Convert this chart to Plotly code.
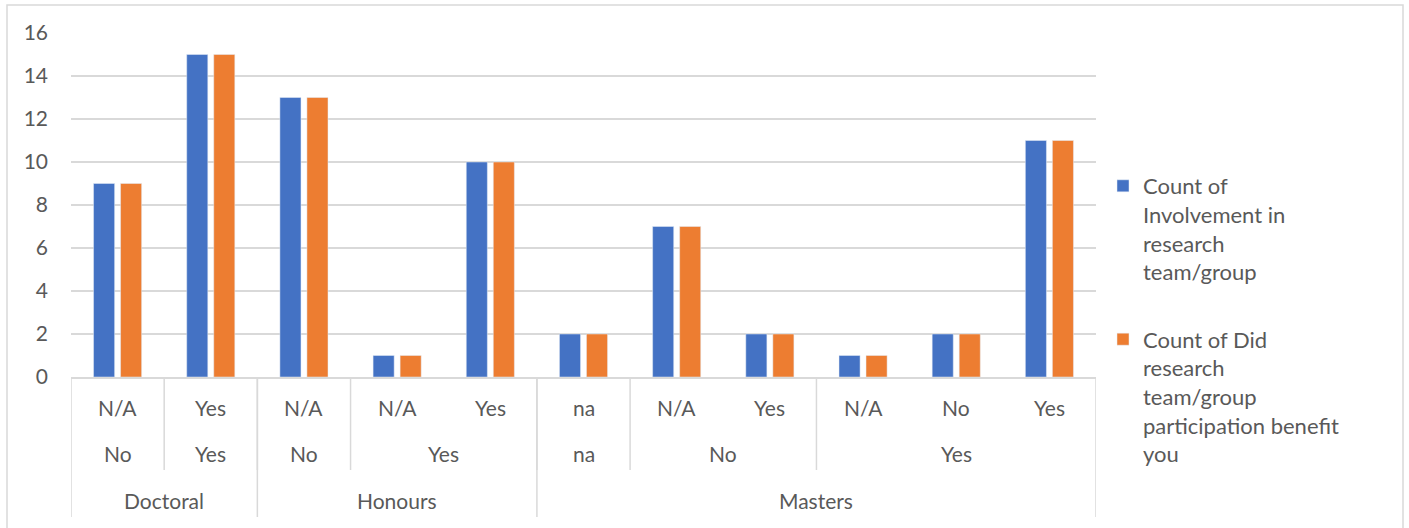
import plotly.graph_objects as go

# Three-level category hierarchy (outer -> inner) and the two counted series
degree = ["Doctoral", "Doctoral", "Honours", "Honours", "Honours",
          "Masters", "Masters", "Masters", "Masters", "Masters", "Masters"]
involvement = ["No", "Yes", "No", "Yes", "Yes",
               "na", "No", "No", "Yes", "Yes", "Yes"]
benefit = ["N/A", "Yes", "N/A", "N/A", "Yes",
           "na", "N/A", "Yes", "N/A", "No", "Yes"]
count_involvement = [9, 15, 13, 1, 10, 2, 7, 2, 1, 2, 11]
count_benefit = [9, 15, 13, 1, 10, 2, 7, 2, 1, 2, 11]
series_names = [
    "Count of<br>Involvement in<br>research<br>team/group",
    "Count of Did<br>research<br>team/group<br>participation benefit<br>you",
]
y_ticks = [0, 2, 4, 6, 8, 10, 12, 14, 16]

BLUE = "#4472C4"
ORANGE = "#ED7D31"
TEXT = "#595959"
LINE = "#D9D9D9"
FONT = "Lato"
FS = 21

W, H = 1409, 528
L, R, T, B = 71, 1096, 33, 377  # plot-area edges in pixels


def px_x(px):
    return (px - L) / (R - L)


def px_y(py):
    return (B - py) / (B - T)


keys = [f"{d} | {i} | {b}" for d, i, b in zip(degree, involvement, benefit)]

fig = go.Figure()
fig.add_trace(go.Bar(x=keys, y=count_involvement, name=series_names[0],
                     marker_color=BLUE, legendgroup="a"))
fig.add_trace(go.Bar(x=keys, y=count_benefit, name=series_names[1],
                     marker_color=ORANGE, legendgroup="b"))

annotations = []
shapes = []

# innermost row of labels: one per category
for idx, lab in enumerate(benefit):
    annotations.append(dict(x=idx, y=px_y(407), xref="x", yref="paper",
                            text=lab, showarrow=False, yanchor="middle",
                            font=dict(family=FONT, size=FS, color=TEXT)))


def runs(labels):
    out = []
    start = 0
    for i in range(1, len(labels) + 1):
        if i == len(labels) or labels[i] != labels[start]:
            out.append((start, i - 1))
            start = i
    return out


mid_keys = list(zip(degree, involvement))
for s, e in runs(mid_keys):
    annotations.append(dict(x=(s + e) / 2, y=px_y(453), xref="x", yref="paper",
                            text=involvement[s], showarrow=False, yanchor="middle",
                            font=dict(family=FONT, size=FS, color=TEXT)))
    if s > 0:
        shapes.append(dict(type="line", xref="x", yref="paper",
                           x0=s - 0.5, x1=s - 0.5, y0=0, y1=px_y(470),
                           line=dict(color=LINE, width=1.5)))

for s, e in runs(degree):
    annotations.append(dict(x=(s + e) / 2, y=px_y(500), xref="x", yref="paper",
                            text=degree[s], showarrow=False, yanchor="middle",
                            font=dict(family=FONT, size=FS, color=TEXT)))
    shapes.append(dict(type="line", xref="x", yref="paper",
                       x0=s - 0.5, x1=s - 0.5, y0=0, y1=px_y(517),
                       line=dict(color=LINE, width=1.5)))
shapes.append(dict(type="line", xref="x", yref="paper",
                   x0=len(keys) - 0.5, x1=len(keys) - 0.5, y0=0, y1=px_y(517),
                   line=dict(color=LINE, width=1.5)))

# chart-area border
shapes.append(dict(type="rect", xref="paper", yref="paper",
                   x0=px_x(7), x1=px_x(1403), y0=px_y(540), y1=px_y(5),
                   line=dict(color=LINE, width=1.5), layer="below"))

fig.update_layout(
    width=W, height=H,
    margin=dict(l=L, r=W - R, t=T, b=H - B, pad=0),
    paper_bgcolor="white", plot_bgcolor="white",
    barmode="group", bargap=0.42, bargroupgap=0.22,
    font=dict(family=FONT, size=FS, color=TEXT),
    showlegend=True,
    legend=dict(x=px_x(1103), y=px_y(165), xanchor="left", yanchor="top",
                valign="top", tracegroupgap=36, bgcolor="rgba(0,0,0,0)",
                font=dict(family=FONT, size=22, color=TEXT)),
    annotations=annotations,
    shapes=shapes,
)
fig.update_xaxes(type="category", showticklabels=False, showgrid=False,
                 showline=True, linecolor=LINE, linewidth=1.5, ticks="",
                 range=[-0.5, len(keys) - 0.5], fixedrange=True)
fig.update_yaxes(range=[0, 16], tickvals=y_ticks, showgrid=True, gridcolor=LINE,
                 gridwidth=1.5, zeroline=False, showline=False, ticks="",
                 ticklabelstandoff=22,
                 tickfont=dict(family=FONT, size=FS, color=TEXT))

fig.write_html("out.html")
